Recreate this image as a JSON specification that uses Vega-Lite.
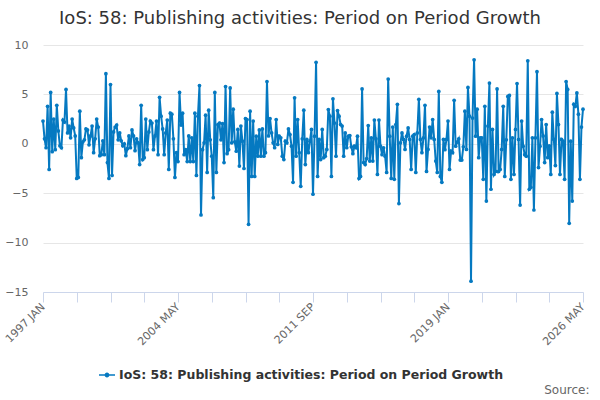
{
  "$schema": "https://vega.github.io/schema/vega-lite/v6.json",
  "description": "IoS 58 Publishing activities, period on period growth",
  "autosize": "none",
  "width": 540,
  "height": 247,
  "padding": {"left": 43, "top": 45, "right": 17, "bottom": 108},
  "config": {
    "font": "DejaVu Sans",
    "view": {"stroke": null}
  },
  "title": {
    "text": "IoS: 58: Publishing activities: Period on Period Growth",
    "fontSize": 18,
    "fontWeight": "normal",
    "color": "#333333",
    "anchor": "middle",
    "dx": -13,
    "offset": 11
  },
  "data": {
    "values": [
      {"m":"1997 JAN","v":2.3},{"m":"1997 FEB","v":0.5},{"m":"1997 MAR","v":-0.4},{"m":"1997 APR","v":3.8},{"m":"1997 MAY","v":-2.6},{"m":"1997 JUN","v":5.2},{"m":"1997 JUL","v":-0.8},{"m":"1997 AUG","v":2.5},{"m":"1997 SEP","v":-0.6},{"m":"1997 OCT","v":3.9},{"m":"1997 NOV","v":1.3},{"m":"1997 DEC","v":-0.2},
      {"m":"1998 JAN","v":-0.4},{"m":"1998 FEB","v":2.4},{"m":"1998 MAR","v":2.2},{"m":"1998 APR","v":5.5},{"m":"1998 MAY","v":1.1},{"m":"1998 JUN","v":1.8},{"m":"1998 JUL","v":0.6},{"m":"1998 AUG","v":2.5},{"m":"1998 SEP","v":1.6},{"m":"1998 OCT","v":0.8},{"m":"1998 NOV","v":-3.5},{"m":"1998 DEC","v":-3.4},
      {"m":"1999 JAN","v":3.3},{"m":"1999 FEB","v":-1.4},{"m":"1999 MAR","v":0.2},{"m":"1999 APR","v":0.4},{"m":"1999 MAY","v":1.5},{"m":"1999 JUN","v":1.4},{"m":"1999 JUL","v":-0.1},{"m":"1999 AUG","v":0.8},{"m":"1999 SEP","v":1.8},{"m":"1999 OCT","v":-0.9},{"m":"1999 NOV","v":0.5},{"m":"1999 DEC","v":2.5},
      {"m":"2000 JAN","v":1.7},{"m":"2000 FEB","v":-1.2},{"m":"2000 MAR","v":-1.1},{"m":"2000 APR","v":0.3},{"m":"2000 MAY","v":-1.1},{"m":"2000 JUN","v":7.1},{"m":"2000 JUL","v":-1.9},{"m":"2000 AUG","v":-3.5},{"m":"2000 SEP","v":6.0},{"m":"2000 OCT","v":-3.2},{"m":"2000 NOV","v":1.2},{"m":"2000 DEC","v":1.7},
      {"m":"2001 JAN","v":1.9},{"m":"2001 FEB","v":0.4},{"m":"2001 MAR","v":1.1},{"m":"2001 APR","v":0.3},{"m":"2001 MAY","v":-0.2},{"m":"2001 JUN","v":0.0},{"m":"2001 JUL","v":-1.2},{"m":"2001 AUG","v":-0.5},{"m":"2001 SEP","v":0.8},{"m":"2001 OCT","v":-0.4},{"m":"2001 NOV","v":1.4},{"m":"2001 DEC","v":0.8},
      {"m":"2002 JAN","v":-0.7},{"m":"2002 FEB","v":0.5},{"m":"2002 MAR","v":0.1},{"m":"2002 APR","v":-2.1},{"m":"2002 MAY","v":3.9},{"m":"2002 JUN","v":-1.6},{"m":"2002 JUL","v":-1.4},{"m":"2002 AUG","v":2.5},{"m":"2002 SEP","v":-0.6},{"m":"2002 OCT","v":1.2},{"m":"2002 NOV","v":2.3},{"m":"2002 DEC","v":2.1},
      {"m":"2003 JAN","v":-0.6},{"m":"2003 FEB","v":0.8},{"m":"2003 MAR","v":2.3},{"m":"2003 APR","v":-1.1},{"m":"2003 MAY","v":4.7},{"m":"2003 JUN","v":2.8},{"m":"2003 JUL","v":1.5},{"m":"2003 AUG","v":-1.1},{"m":"2003 SEP","v":1.1},{"m":"2003 OCT","v":2.4},{"m":"2003 NOV","v":-2.6},{"m":"2003 DEC","v":3.1},
      {"m":"2004 JAN","v":3.0},{"m":"2004 FEB","v":0.5},{"m":"2004 MAR","v":-3.4},{"m":"2004 APR","v":-0.9},{"m":"2004 MAY","v":-1.8},{"m":"2004 JUN","v":5.2},{"m":"2004 JUL","v":1.9},{"m":"2004 AUG","v":3.1},{"m":"2004 SEP","v":-1.1},{"m":"2004 OCT","v":-0.6},{"m":"2004 NOV","v":-1.8},{"m":"2004 DEC","v":0.8},
      {"m":"2005 JAN","v":-1.8},{"m":"2005 FEB","v":0.6},{"m":"2005 MAR","v":-1.8},{"m":"2005 APR","v":3.1},{"m":"2005 MAY","v":-3.2},{"m":"2005 JUN","v":2.8},{"m":"2005 JUL","v":5.9},{"m":"2005 AUG","v":-7.2},{"m":"2005 SEP","v":-0.6},{"m":"2005 OCT","v":0.1},{"m":"2005 NOV","v":2.9},{"m":"2005 DEC","v":-2.9},
      {"m":"2006 JAN","v":3.4},{"m":"2006 FEB","v":0.4},{"m":"2006 MAR","v":-1.25},{"m":"2006 APR","v":-5.45},{"m":"2006 MAY","v":5.2},{"m":"2006 JUN","v":-2.9},{"m":"2006 JUL","v":1.95},{"m":"2006 AUG","v":2.1},{"m":"2006 SEP","v":0.4},{"m":"2006 OCT","v":2.05},{"m":"2006 NOV","v":-1.9},{"m":"2006 DEC","v":5.8},
      {"m":"2007 JAN","v":-1.0},{"m":"2007 FEB","v":-0.6},{"m":"2007 MAR","v":5.65},{"m":"2007 APR","v":0.1},{"m":"2007 MAY","v":3.5},{"m":"2007 JUN","v":0.2},{"m":"2007 JUL","v":-0.75},{"m":"2007 AUG","v":1.45},{"m":"2007 SEP","v":-2.25},{"m":"2007 OCT","v":1.8},{"m":"2007 NOV","v":0.27},{"m":"2007 DEC","v":-2.5},
      {"m":"2008 JAN","v":2.55},{"m":"2008 FEB","v":2.45},{"m":"2008 MAR","v":-8.15},{"m":"2008 APR","v":3.3},{"m":"2008 MAY","v":-3.3},{"m":"2008 JUN","v":2.3},{"m":"2008 JUL","v":-3.3},{"m":"2008 AUG","v":0.77},{"m":"2008 SEP","v":-1.25},{"m":"2008 OCT","v":1.4},{"m":"2008 NOV","v":-1.25},{"m":"2008 DEC","v":1.5},
      {"m":"2009 JAN","v":-1.25},{"m":"2009 FEB","v":-0.9},{"m":"2009 MAR","v":6.3},{"m":"2009 APR","v":0.8},{"m":"2009 MAY","v":2.55},{"m":"2009 JUN","v":1.1},{"m":"2009 JUL","v":0.1},{"m":"2009 AUG","v":-0.4},{"m":"2009 SEP","v":2.45},{"m":"2009 OCT","v":-0.07},{"m":"2009 NOV","v":0.77},{"m":"2009 DEC","v":0.6},
      {"m":"2010 JAN","v":-1.25},{"m":"2010 FEB","v":-1.6},{"m":"2010 MAR","v":0.27},{"m":"2010 APR","v":0.1},{"m":"2010 MAY","v":1.5},{"m":"2010 JUN","v":0.94},{"m":"2010 JUL","v":-0.24},{"m":"2010 AUG","v":-3.9},{"m":"2010 SEP","v":4.65},{"m":"2010 OCT","v":-1.25},{"m":"2010 NOV","v":2.45},{"m":"2010 DEC","v":-0.9},
      {"m":"2011 JAN","v":-4.3},{"m":"2011 FEB","v":0.5},{"m":"2011 MAR","v":3.4},{"m":"2011 APR","v":-2.1},{"m":"2011 MAY","v":0.44},{"m":"2011 JUN","v":-0.9},{"m":"2011 JUL","v":0.27},{"m":"2011 AUG","v":1.45},{"m":"2011 SEP","v":-5.1},{"m":"2011 OCT","v":0.77},{"m":"2011 NOV","v":8.25},{"m":"2011 DEC","v":-3.3},
      {"m":"2012 JAN","v":0.44},{"m":"2012 FEB","v":-1.6},{"m":"2012 MAR","v":1.45},{"m":"2012 APR","v":-1.4},{"m":"2012 MAY","v":-1.25},{"m":"2012 JUN","v":-0.57},{"m":"2012 JUL","v":3.47},{"m":"2012 AUG","v":2.8},{"m":"2012 SEP","v":-3.3},{"m":"2012 OCT","v":4.55},{"m":"2012 NOV","v":2.1},{"m":"2012 DEC","v":-1.25},
      {"m":"2013 JAN","v":3.37},{"m":"2013 FEB","v":2.8},{"m":"2013 MAR","v":1.95},{"m":"2013 APR","v":1.8},{"m":"2013 MAY","v":-1.25},{"m":"2013 JUN","v":1.1},{"m":"2013 JUL","v":-0.4},{"m":"2013 AUG","v":0.77},{"m":"2013 SEP","v":0.84},{"m":"2013 OCT","v":-0.3},{"m":"2013 NOV","v":-1.0},{"m":"2013 DEC","v":-0.24},
      {"m":"2014 JAN","v":-0.4},{"m":"2014 FEB","v":0.77},{"m":"2014 MAR","v":-3.5},{"m":"2014 APR","v":-3.3},{"m":"2014 MAY","v":5.55},{"m":"2014 JUN","v":-1.9},{"m":"2014 JUL","v":-2.1},{"m":"2014 AUG","v":-1.5},{"m":"2014 SEP","v":1.85},{"m":"2014 OCT","v":-1.75},{"m":"2014 NOV","v":0.6},{"m":"2014 DEC","v":-1.75},
      {"m":"2015 JAN","v":2.4},{"m":"2015 FEB","v":0.5},{"m":"2015 MAR","v":-3.1},{"m":"2015 APR","v":2.4},{"m":"2015 MAY","v":-0.24},{"m":"2015 JUN","v":-1.1},{"m":"2015 JUL","v":-0.4},{"m":"2015 AUG","v":-1.25},{"m":"2015 SEP","v":-2.9},{"m":"2015 OCT","v":6.55},{"m":"2015 NOV","v":0.77},{"m":"2015 DEC","v":-3.5},
      {"m":"2016 JAN","v":1.7},{"m":"2016 FEB","v":-3.6},{"m":"2016 MAR","v":1.95},{"m":"2016 APR","v":4.0},{"m":"2016 MAY","v":-6.05},{"m":"2016 JUN","v":0.1},{"m":"2016 JUL","v":1.1},{"m":"2016 AUG","v":0.44},{"m":"2016 SEP","v":-0.57},{"m":"2016 OCT","v":0.77},{"m":"2016 NOV","v":1.6},{"m":"2016 DEC","v":0.44},
      {"m":"2017 JAN","v":-2.6},{"m":"2017 FEB","v":0.77},{"m":"2017 MAR","v":0.94},{"m":"2017 APR","v":-2.9},{"m":"2017 MAY","v":1.1},{"m":"2017 JUN","v":4.5},{"m":"2017 JUL","v":0.44},{"m":"2017 AUG","v":-0.9},{"m":"2017 SEP","v":0.6},{"m":"2017 OCT","v":3.9},{"m":"2017 NOV","v":-2.8},{"m":"2017 DEC","v":-0.57},
      {"m":"2018 JAN","v":1.7},{"m":"2018 FEB","v":0.6},{"m":"2018 MAR","v":2.45},{"m":"2018 APR","v":0.44},{"m":"2018 MAY","v":-1.75},{"m":"2018 JUN","v":-2.9},{"m":"2018 JUL","v":5.3},{"m":"2018 AUG","v":-3.3},{"m":"2018 SEP","v":-3.9},{"m":"2018 OCT","v":0.44},{"m":"2018 NOV","v":-0.6},{"m":"2018 DEC","v":0.44},
      {"m":"2019 JAN","v":2.3},{"m":"2019 FEB","v":-2.6},{"m":"2019 MAR","v":-0.74},{"m":"2019 APR","v":-0.9},{"m":"2019 MAY","v":4.4},{"m":"2019 JUN","v":-0.24},{"m":"2019 JUL","v":0.17},{"m":"2019 AUG","v":0.5},{"m":"2019 SEP","v":-1.65},{"m":"2019 OCT","v":-1.65},{"m":"2019 NOV","v":-0.3},{"m":"2019 DEC","v":3.3},
      {"m":"2020 JAN","v":-0.57},{"m":"2020 FEB","v":5.7},{"m":"2020 MAR","v":2.8},{"m":"2020 APR","v":-13.9},{"m":"2020 MAY","v":2.6},{"m":"2020 JUN","v":8.5},{"m":"2020 JUL","v":0.77},{"m":"2020 AUG","v":3.5},{"m":"2020 SEP","v":-1.4},{"m":"2020 OCT","v":0.6},{"m":"2020 NOV","v":0.6},{"m":"2020 DEC","v":-3.6},
      {"m":"2021 JAN","v":3.8},{"m":"2021 FEB","v":-5.8},{"m":"2021 MAR","v":1.8},{"m":"2021 APR","v":6.15},{"m":"2021 MAY","v":-4.6},{"m":"2021 JUN","v":1.45},{"m":"2021 JUL","v":-3.1},{"m":"2021 AUG","v":-2.8},{"m":"2021 SEP","v":5.55},{"m":"2021 OCT","v":-2.8},{"m":"2021 NOV","v":-2.6},{"m":"2021 DEC","v":-0.57},
      {"m":"2022 JAN","v":3.8},{"m":"2022 FEB","v":-3.3},{"m":"2022 MAR","v":0.4},{"m":"2022 APR","v":4.8},{"m":"2022 MAY","v":4.9},{"m":"2022 JUN","v":-3.6},{"m":"2022 JUL","v":0.6},{"m":"2022 AUG","v":-3.1},{"m":"2022 SEP","v":1.45},{"m":"2022 OCT","v":6.1},{"m":"2022 NOV","v":0.44},{"m":"2022 DEC","v":-6.2},
      {"m":"2023 JAN","v":2.3},{"m":"2023 FEB","v":-0.24},{"m":"2023 MAR","v":-1.1},{"m":"2023 APR","v":-1.25},{"m":"2023 MAY","v":8.4},{"m":"2023 JUN","v":-4.6},{"m":"2023 JUL","v":-4.4},{"m":"2023 AUG","v":0.6},{"m":"2023 SEP","v":-6.7},{"m":"2023 OCT","v":0.6},{"m":"2023 NOV","v":7.3},{"m":"2023 DEC","v":-2.4},
      {"m":"2024 JAN","v":-0.24},{"m":"2024 FEB","v":2.45},{"m":"2024 MAR","v":0.8},{"m":"2024 APR","v":-1.9},{"m":"2024 MAY","v":1.95},{"m":"2024 JUN","v":-1.4},{"m":"2024 JUL","v":-0.2},{"m":"2024 AUG","v":-3.1},{"m":"2024 SEP","v":3.2},{"m":"2024 OCT","v":0.44},{"m":"2024 NOV","v":-2.2},{"m":"2024 DEC","v":5.1},
      {"m":"2025 JAN","v":1.95},{"m":"2025 FEB","v":-3.1},{"m":"2025 MAR","v":0.44},{"m":"2025 APR","v":0.27},{"m":"2025 MAY","v":-3.6},{"m":"2025 JUN","v":6.3},{"m":"2025 JUL","v":5.5},{"m":"2025 AUG","v":-8.05},{"m":"2025 SEP","v":0.27},{"m":"2025 OCT","v":-5.8},{"m":"2025 NOV","v":4.0},{"m":"2025 DEC","v":3.8},
      {"m":"2026 JAN","v":5.15},{"m":"2026 FEB","v":3.0},{"m":"2026 MAR","v":-3.6},{"m":"2026 APR","v":1.7},{"m":"2026 MAY","v":3.5}
    ]
  },
  "mark": {
    "type": "line",
    "strokeWidth": 2,
    "point": {"filled": true, "size": 14}
  },
  "encoding": {
    "x": {
      "field": "m",
      "type": "ordinal",
      "sort": null,
      "scale": {"type": "point", "padding": 0},
      "axis": {
        "values": ["1997 JAN","1998 NOV","2000 SEP","2002 JUL","2004 MAY","2006 MAR","2008 JAN","2009 NOV","2011 SEP","2013 JUL","2015 MAY","2017 MAR","2019 JAN","2020 NOV","2022 SEP","2024 JUL","2026 MAY"],
        "labelExpr": "indexof(['1997 JAN','2004 MAY','2011 SEP','2019 JAN','2026 MAY'], datum.value) >= 0 ? datum.value : ''",
        "labelAngle": -45,
        "labelAlign": "right",
        "labelBaseline": "middle",
        "labelOverlap": false,
        "labelFontSize": 11,
        "labelColor": "#666666",
        "labelPadding": 3,
        "tickSize": 10,
        "tickColor": "#ccd6eb",
        "domainColor": "#ccd6eb",
        "grid": false,
        "title": "Source:",
        "titleFontSize": 12,
        "titleFontWeight": "normal",
        "titleColor": "#666666",
        "titleAlign": "right",
        "titleAnchor": "end",
        "titleBaseline": "middle",
        "titleX": 546,
        "titleY": 97
      }
    },
    "y": {
      "field": "v",
      "type": "quantitative",
      "scale": {"domain": [-15, 10], "nice": false},
      "axis": {
        "values": [-15, -10, -5, 0, 5, 10],
        "domain": false,
        "ticks": false,
        "gridColor": "#e6e6e6",
        "labelFontSize": 11,
        "labelColor": "#666666",
        "labelPadding": 15,
        "title": null
      }
    },
    "color": {
      "datum": "IoS: 58: Publishing activities: Period on Period Growth",
      "type": "nominal",
      "scale": {"range": ["#0579c1"]},
      "legend": {
        "title": null,
        "orient": "none",
        "legendX": 56,
        "legendY": 322,
        "symbolType": "M-1,-0.1H1V0.1H-1Z M0.3,0A0.3,0.3,0,1,1,-0.3,0A0.3,0.3,0,1,1,0.3,0Z",
        "symbolSize": 256,
        "symbolStrokeWidth": 0,
        "symbolFillColor": "#0579c1",
        "labelFontSize": 12.5,
        "labelFontWeight": "bold",
        "labelColor": "#333333",
        "labelLimit": 0
      }
    }
  }
}
